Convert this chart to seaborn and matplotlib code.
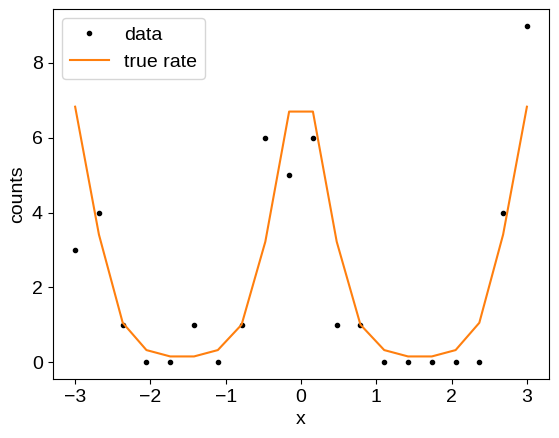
import numpy as np
import pandas as pd
import matplotlib
matplotlib.use("Agg")
import matplotlib.pyplot as plt
import seaborn as sns

# grid of x positions (20 points from -3 to 3)
x_vals = [-3.0, -2.684, -2.368, -2.053, -1.737, -1.421, -1.105, -0.789, -0.474, -0.158,
          0.158, 0.474, 0.789, 1.105, 1.421, 1.737, 2.053, 2.368, 2.684, 3.0]
counts = [3, 4, 1, 0, 0, 1, 0, 1, 6, 5,
          6, 1, 1, 0, 0, 0, 0, 0, 4, 9]
true_rate = [6.83, 3.41, 1.05, 0.32, 0.15, 0.15, 0.32, 1.00, 3.22, 6.70,
             6.70, 3.22, 1.00, 0.32, 0.15, 0.15, 0.32, 1.05, 3.41, 6.83]

df = pd.DataFrame({'x': x_vals, 'counts': counts, 'rate': true_rate})

plt.rcParams['font.family'] = ['Liberation Sans', 'DejaVu Sans']
plt.rcParams['font.size'] = 14

fig, ax = plt.subplots(figsize=(5.59, 4.38), dpi=100)
fig.subplots_adjust(left=0.094, right=0.983, top=0.98, bottom=0.135)

ax.plot(df['x'], df['counts'], 'k.', label='data')
sns.lineplot(data=df, x='x', y='rate', color='C1', label='true rate', ax=ax)

ax.set_xlabel('x')
ax.set_ylabel('counts')
ax.legend(loc='upper left')
fig.savefig('out.png')
